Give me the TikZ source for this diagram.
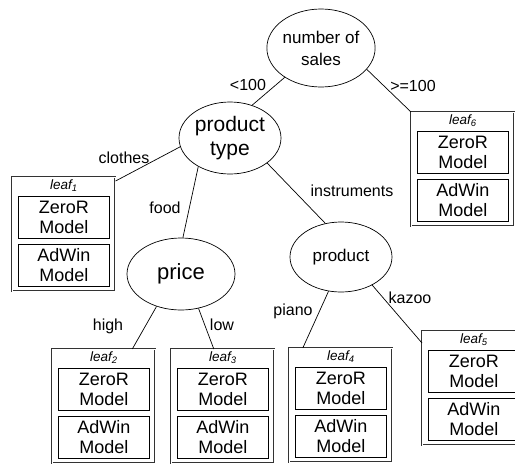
\documentclass[tikz,border=0pt]{standalone}
\usepackage{fontspec}
\setmainfont{Liberation Sans}
\usetikzlibrary{shapes.geometric}
\tikzset{
  decision/.style={draw, ellipse, inner sep=0pt, align=center, line width=0.7pt},
  edgelabel/.style={font=\fontsize{16}{18}\selectfont, inner sep=0pt},
  leafouter/.style={draw=black!80, double=white, double distance=0.9pt, line width=0.6pt,
     minimum width=103pt, minimum height=114pt, inner sep=0pt},
  leaftitle/.style={font=\fontsize{13.5}{15}\selectfont\itshape, inner sep=0pt},
  innerbox/.style={draw, line width=0.7pt, minimum width=91pt, minimum height=42pt,
     inner sep=0pt, align=center, font=\fontsize{18}{20}\selectfont},
  conn/.style={draw, line width=0.7pt},
}
\newcommand\leafnode[4]{%
  \node[leafouter, anchor=north west] (#1) at (#2,#3) {};
  \node[leaftitle] (#1t) at ([yshift=-9pt]#1.north) {leaf\textsubscript{#4}};
  \node[innerbox, anchor=north] (#1z) at ([yshift=-19pt]#1.north) {ZeroR\\Model};
  \node[innerbox, anchor=north] (#1a) at ([yshift=-67pt]#1.north) {AdWin\\Model};
}
\begin{document}
\begin{tikzpicture}[x=1pt, y=-1pt]
\useasboundingbox (0,0) rectangle (515,464);
\clip (0,0) rectangle (515,464);
\node[decision, minimum width=102pt, minimum height=78pt,
      font=\fontsize{17}{22}\selectfont] (ns) at (321,48) {number of\\sales};
\node[decision, minimum width=102pt, minimum height=72pt,
      font=\fontsize{21}{24}\selectfont] (pt) at (230,138) {product\\type};
\node[decision, minimum width=108pt, minimum height=72pt,
      font=\fontsize{22}{24}\selectfont] (price) at (181,274) {price};
\node[decision, minimum width=102pt, minimum height=70pt,
      font=\fontsize{17}{20}\selectfont] (product) at (341,257) {product};

\leafnode{leafA}{12}{177}{1}
\leafnode{leafB}{52}{349}{2}
\leafnode{leafC}{171}{349}{3}
\leafnode{leafD}{289}{348}{4}
\leafnode{leafE}{422}{331}{5}
\leafnode{leafF}{411}{112}{6}

\draw[conn] (ns.219) -- (pt.56);
\draw[conn] (ns.-25) -- (leafF.north west);
\draw[conn] (pt.190) -- ([yshift=-4pt]leafA.north east);
\draw[conn] (pt.222) -- (price.87);
\draw[conn] (pt.-34) -- (product.115);
\draw[conn] (price.233) -- ([xshift=28.5pt]leafB.north);
\draw[conn] (price.-63) -- ([xshift=-9pt]leafC.north);
\draw[conn] (product.250) -- ([xshift=-38pt]leafD.north);
\draw[conn] (product.-42) -- ([yshift=-12pt]leafE.north west);

\node[edgelabel] (l1) at (248,85) {<100};
\node[edgelabel] (l2) at (413,86) {>=100};
\node[edgelabel] (l3) at (124,158) {clothes};
\node[edgelabel] (l4) at (165,208) {food};
\node[edgelabel] (l5) at (352,191) {instruments};
\node[edgelabel] (l6) at (108,326) {high};
\node[edgelabel] (l7) at (222,325) {low};
\node[edgelabel] (l8) at (293,311) {piano};
\node[edgelabel] (l9) at (410,298) {kazoo};
\end{tikzpicture}
\end{document}
